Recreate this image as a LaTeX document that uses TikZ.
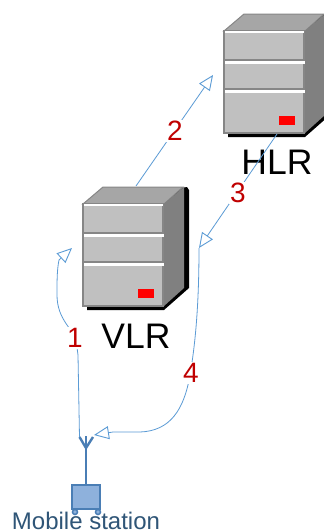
\documentclass[tikz,border=0pt]{standalone}
\usepackage{fontspec}
\setmainfont{Liberation Sans}
\usetikzlibrary{arrows.meta}
\definecolor{linkblue}{HTML}{5B9BD5}
\definecolor{antblue}{HTML}{4A7EB5}
\definecolor{boxfill}{HTML}{8EB1DC}
\definecolor{mstext}{HTML}{2F5577}
\definecolor{numred}{HTML}{C00000}
\definecolor{srvfront}{HTML}{C0C0C0}
\definecolor{srvedge}{HTML}{868686}
\definecolor{srvside}{HTML}{808080}
\definecolor{srvtop}{HTML}{A6A6A6}
\tikzset{
  link/.style={draw=linkblue,line width=0.8pt},
  linkarrow/.style={link,-{Triangle[open,length=15pt,width=13pt,line width=0.9pt]}},
  numlabel/.style={text=numred,font=\fontsize{28}{28}\selectfont,fill=white,inner sep=1.5pt},
  srvlabel/.style={text=black,font=\fontsize{35.5}{36}\selectfont,inner sep=0pt},
  frontface/.style={fill=srvfront,draw=srvedge,line width=1.6pt,minimum width=80pt,minimum height=102pt,inner sep=0pt,outer sep=0pt},
  server/.pic={
    \fill[black] (4,0) -- (104,-17) -- (106,-14) -- (106,84) -- (81,106) -- (4,106) -- cycle;
    \fill[srvtop,draw=srvedge,line width=1pt] (0,0) -- (20,-17) -- (100,-17) -- (81,0) -- cycle;
    \fill[srvside] (81,0) -- (101,-17) -- (101,84) -- (81,102) -- cycle;
    \node[frontface,anchor=north west] (-front) at (0,0) {};
    \fill[white] (1,-0.5) rectangle (80,1.5);
    \fill[srvedge] (1,28) rectangle (81,30);
    \fill[white] (1,30) rectangle (81,33);
    \fill[srvedge] (1,57) rectangle (81,59);
    \fill[white] (1,59) rectangle (81,62);
    \fill[red] (55,85) rectangle (71,94);
  }
}
\begin{document}
\begin{tikzpicture}[x=1pt,y=-1pt]
\useasboundingbox (0,0) rectangle (324,531);
\clip (0,0) rectangle (324,531);
\fill[white] (0,0) rectangle (324,531);

\pic (vlr) at (83,204) {server};
\pic (hlr) at (224,31) {server};

\node[srvlabel] (vlrtext) at (136,336) {VLR};
\node[srvlabel] (hlrtext) at (277,162) {HLR};

% antenna and mobile station
\coordinate (antL) at (79.5,437);
\coordinate (antM) at (86,448);
\coordinate (antR) at (93,437);
\coordinate (antTop) at (86,436);
\node[fill=boxfill,draw=antblue,line width=2pt,minimum width=28pt,minimum height=24pt,inner sep=0pt,outer sep=1pt] (ms) at (86,497) {};
\draw[antblue,line width=2.4pt] (ms.north) -- (antTop);
\draw[antblue,line width=2.4pt] (antL) -- (antM) -- (antR);
\node[fill=boxfill,draw=antblue,line width=1.5pt,circle,minimum size=5pt,inner sep=0pt] (wheelL) at (75,512) {};
\node[fill=boxfill,draw=antblue,line width=1.5pt,circle,minimum size=5pt,inner sep=0pt] (wheelR) at (98,512) {};
\node[text=mstext,font=\fontsize{24}{24}\selectfont,inner sep=0pt] (mstext) at (86,521) {Mobile station};

% connectors
\coordinate (tipA) at (72,248);
\coordinate (hlrin) at (213,75);
\coordinate (vlrout) at (136,186);
\coordinate (hlrout) at (277,134);
\coordinate (tipC) at (199,248);
\coordinate (tipD) at (94,435);

\draw[linkarrow] (antL) -- (78,355) -- (76,340)
   .. controls (74,330) and (57,320) .. (57,295)
   .. controls (57,280) and (57,270) .. (59,260) -- (tipA);
\draw[linkarrow] (vlrout) -- (hlrin);
\draw[linkarrow] (hlrout) -- (tipC);
\draw[linkarrow] (tipC) .. controls (199,300) and (196,340) .. (190,375)
   .. controls (184,410) and (170,431) .. (140,432) -- (113,432) -- (tipD);

\node[numlabel] (n1) at (75,338) {1};
\node[numlabel] (n2) at (175,131) {2};
\node[numlabel] (n3) at (238,193) {3};
\node[numlabel] (n4) at (191,373) {4};
\end{tikzpicture}
\end{document}
